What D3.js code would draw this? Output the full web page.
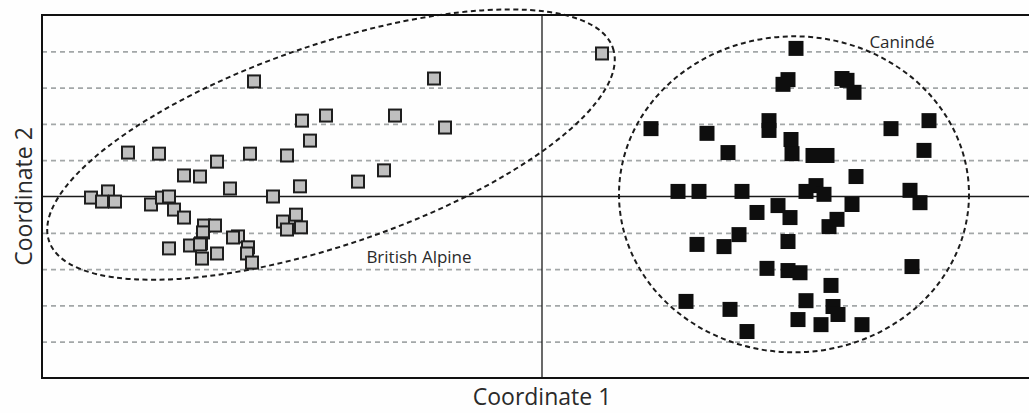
<!DOCTYPE html>
<html>
<head>
<meta charset="utf-8">
<script src="https://cdn.jsdelivr.net/npm/d3@7"></script>
<style>
  body { margin: 0; background: #fff; }
  svg { display: block; font-family: "Open Sans", "Noto Sans", sans-serif; }
</style>
</head>
<body>
<div id="chart"></div>
<script>
// PCoA scores (coordinate 1, coordinate 2)
var alpineX = [-0.288, -0.414, -0.383, -0.292, -0.325, -0.358, -0.342, -0.312, -0.451, -0.434,
               -0.440, -0.427, -0.391, -0.380, -0.373, -0.368, -0.358, -0.338, -0.327, -0.339,
               -0.304, -0.309, -0.294, -0.295, -0.290, -0.373, -0.352, -0.341, -0.340, -0.325,
               -0.269, 0.060, -0.108, -0.240, -0.216, -0.147, -0.097, -0.232, -0.255, -0.158,
               -0.184, -0.242, -0.246, -0.259, -0.255, -0.241, -0.342];
var alpineY = [0.317, 0.121, 0.118, 0.118, 0.096, 0.058, 0.055, 0.022, -0.003, 0.014,
               -0.014, -0.014, -0.022, -0.003, 0.000, -0.036, -0.058, -0.080, -0.080, -0.099,
               -0.110, -0.113, -0.140, -0.157, -0.182, -0.143, -0.135, -0.129, -0.171, -0.157,
               0.000, 0.394, 0.325, 0.209, 0.223, 0.223, 0.190, 0.154, 0.113, 0.072,
               0.041, 0.028, -0.050, -0.069, -0.091, -0.085, -0.132];

var canindeX = [0.254, 0.246, 0.241, 0.300, 0.305, 0.312, 0.109, 0.165, 0.227, 0.227,
                0.249, 0.250, 0.186, 0.271, 0.285, 0.349, 0.387, 0.382, 0.314, 0.136,
                0.157, 0.200, 0.264, 0.274, 0.282, 0.368, 0.378, 0.310, 0.236, 0.215,
                0.248, 0.295, 0.287, 0.197, 0.155, 0.182, 0.246, 0.225, 0.246, 0.258,
                0.370, 0.289, 0.144, 0.188, 0.264, 0.291, 0.296, 0.256, 0.279, 0.320,
                0.205];
var canindeY = [0.408, 0.322, 0.309, 0.325, 0.320, 0.287, 0.187, 0.174, 0.209, 0.182,
                0.157, 0.118, 0.121, 0.113, 0.113, 0.187, 0.209, 0.127, 0.055, 0.014,
                0.014, 0.014, 0.014, 0.030, 0.006, 0.017, -0.017, -0.022, -0.025, -0.044,
                -0.058, -0.063, -0.083, -0.105, -0.132, -0.138, -0.124, -0.198, -0.204, -0.210,
                -0.193, -0.245, -0.289, -0.311, -0.287, -0.303, -0.325, -0.339, -0.353, -0.353,
                -0.372];

var gridValues = [-0.4, -0.3, -0.2, -0.1, 0.1, 0.2, 0.3, 0.4];

// group envelopes: centre, semi-axes (in coordinate 1 units), tilt in degrees
var groupNames = ["British Alpine", "Canindé"];
var groupCx = [-0.211, 0.252];
var groupCy = [0.143, 0.006];
var groupRa = [0.298, 0.175];
var groupRb = [0.100, 0.158];
var groupTilt = [-18.9, 0];

var W = 1029, H = 413;
var margin = {top: 15, right: 1042, bottom: 378, left: 42};

var x = d3.scaleLinear().domain([-0.5, 0.5]).range([margin.left, margin.right]);
var y = d3.scaleLinear().domain([-0.5, 0.5]).range([margin.bottom, margin.top]);

var svg = d3.select("#chart").append("svg")
    .attr("width", W)
    .attr("height", H);

svg.append("rect")
    .attr("width", W).attr("height", H)
    .attr("fill", "#fefefe");

// dashed horizontal grid
var grid = svg.append("g")
    .attr("class", "grid")
    .attr("transform", "translate(" + margin.left + ",0)")
    .call(d3.axisLeft(y).tickValues(gridValues).tickSize(-(margin.right - margin.left)).tickFormat(""));
grid.select(".domain").remove();
grid.selectAll("line")
    .attr("stroke", "#a3a7a8")
    .attr("stroke-width", 1.8)
    .attr("stroke-dasharray", "5,4");

// zero lines
svg.append("line")
    .attr("x1", x(-0.5)).attr("x2", x(0.5))
    .attr("y1", y(0)).attr("y2", y(0))
    .attr("stroke", "#1a1a1a").attr("stroke-width", 1.3);
svg.append("line")
    .attr("x1", x(0)).attr("x2", x(0))
    .attr("y1", y(0.5)).attr("y2", y(-0.5))
    .attr("stroke", "#1a1a1a").attr("stroke-width", 1.3);

// envelopes
var unit = x(1) - x(0);
svg.selectAll(".envelope")
    .data(groupNames)
  .enter().append("ellipse")
    .attr("class", "envelope")
    .attr("cx", 0).attr("cy", 0)
    .attr("rx", function(d, i) { return groupRa[i] * unit; })
    .attr("ry", function(d, i) { return groupRb[i] * unit; })
    .attr("transform", function(d, i) {
        return "translate(" + x(groupCx[i]) + "," + y(groupCy[i]) + ") rotate(" + groupTilt[i] + ")";
    })
    .attr("fill", "none")
    .attr("stroke", "#1c1c1c")
    .attr("stroke-width", 2)
    .attr("stroke-dasharray", "5,3.5");

// points
var alpine = alpineX.map(function(v, i) { return {x: v, y: alpineY[i]}; });
var caninde = canindeX.map(function(v, i) { return {x: v, y: canindeY[i]}; });

var s1 = 12;
svg.selectAll(".alpine")
    .data(alpine)
  .enter().append("rect")
    .attr("class", "alpine")
    .attr("x", function(d) { return x(d.x) - s1 / 2; })
    .attr("y", function(d) { return y(d.y) - s1 / 2; })
    .attr("width", s1).attr("height", s1)
    .attr("fill", "#bfbfbf")
    .attr("stroke", "#1e1e1e")
    .attr("stroke-width", 2);

var s2 = 15;
svg.selectAll(".caninde")
    .data(caninde)
  .enter().append("rect")
    .attr("class", "caninde")
    .attr("x", function(d) { return x(d.x) - s2 / 2; })
    .attr("y", function(d) { return y(d.y) - s2 / 2; })
    .attr("width", s2).attr("height", s2)
    .attr("fill", "#0e0e0e");

// frame
svg.append("rect")
    .attr("x", margin.left).attr("y", margin.top)
    .attr("width", margin.right - margin.left).attr("height", margin.bottom - margin.top)
    .attr("fill", "none")
    .attr("stroke", "#111")
    .attr("stroke-width", 2);

// group labels
svg.append("text")
    .attr("x", 419).attr("y", 263)
    .attr("text-anchor", "middle")
    .attr("font-size", 17)
    .attr("fill", "#2a2a2a")
    .text(groupNames[0]);
svg.append("text")
    .attr("x", 902).attr("y", 48)
    .attr("text-anchor", "middle")
    .attr("font-size", 17)
    .attr("fill", "#2a2a2a")
    .text(groupNames[1]);

// axis titles
svg.append("text")
    .attr("x", x(0)).attr("y", 405)
    .attr("text-anchor", "middle")
    .attr("font-size", 23)
    .attr("fill", "#2a2a2a")
    .text("Coordinate 1");
svg.append("text")
    .attr("transform", "translate(32," + y(0) + ") rotate(-90)")
    .attr("text-anchor", "middle")
    .attr("font-size", 23)
    .attr("fill", "#2a2a2a")
    .text("Coordinate 2");
</script>
</body>
</html>
